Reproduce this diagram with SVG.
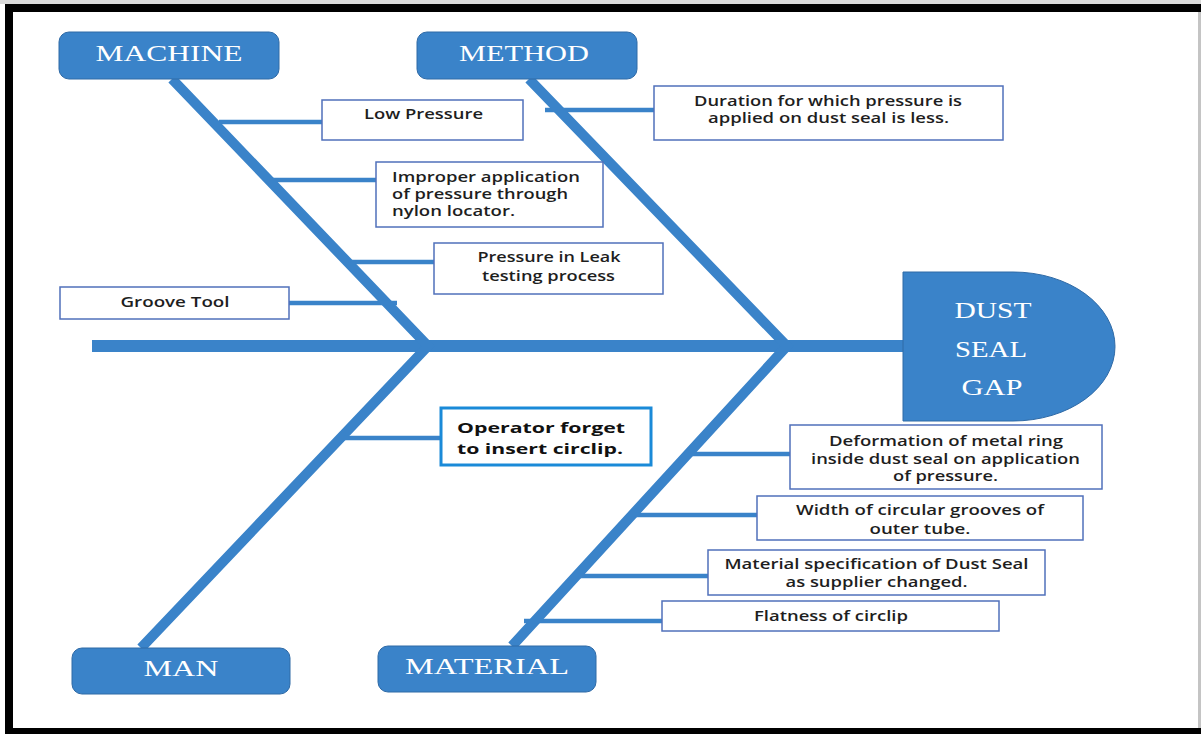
<svg xmlns="http://www.w3.org/2000/svg" width="1201" height="734" viewBox="0 0 1201 734">
<style>
.cat{fill:#3a83c9;stroke:#2f6aa6;stroke-width:1}
.cattxt{font-family:"Liberation Serif",serif;font-size:23px;fill:#ffffff;text-anchor:middle}
.box{fill:#ffffff;stroke:#5070bb;stroke-width:1.5}
.txt{font-family:"Open Sans","Liberation Sans",sans-serif;font-weight:600;font-size:14px;fill:#1e1e1e}
.btxt{font-family:"Open Sans","Liberation Sans",sans-serif;font-weight:700;font-size:14.5px;fill:#111111}
.mid{text-anchor:middle}
.bone{fill:none;stroke:#3a83c9;stroke-width:10;stroke-linejoin:miter;stroke-miterlimit:10}
.spine{stroke:#3a83c9;stroke-width:12}
.sub{stroke:#3a83c9;stroke-width:4.5}
</style>
<rect x="0" y="0" width="1201" height="734" fill="#ffffff"/>
<rect x="0" y="0" width="1201" height="4" fill="#d9d9d9"/>
<rect x="5" y="4" width="1196" height="730" fill="#000000"/>
<rect x="13" y="12" width="1186" height="716" fill="#ffffff"/>
<rect x="1198" y="12" width="3" height="716" fill="#c4c4c4"/>

<g id="connectors">
<line class="spine" x1="92" y1="346" x2="906" y2="346"/>
<polyline class="bone" points="172,79 428,346 141,648"/>
<polyline class="bone" points="529,79 787,346 512,646"/>
<line class="sub" x1="219" y1="122" x2="322" y2="122"/>
<line class="sub" x1="272" y1="180" x2="376" y2="180"/>
<line class="sub" x1="352" y1="262" x2="434" y2="262"/>
<line class="sub" x1="289" y1="303" x2="397" y2="303"/>
<line class="sub" x1="545" y1="110" x2="654" y2="110"/>
<line class="sub" x1="344" y1="438" x2="440" y2="438"/>
<line class="sub" x1="692" y1="454" x2="790" y2="454"/>
<line class="sub" x1="636" y1="515" x2="757" y2="515"/>
<line class="sub" x1="578" y1="576" x2="708" y2="576"/>
<line class="sub" x1="524" y1="621" x2="662" y2="621"/>
</g>

<g id="machine">
<rect class="cat" x="59" y="32" width="220" height="47" rx="10"/>
<text class="cattxt" x="169" y="61" textLength="147" lengthAdjust="spacingAndGlyphs">MACHINE</text>
</g>
<g id="method">
<rect class="cat" x="417" y="32" width="220" height="47" rx="10"/>
<text class="cattxt" x="524" y="61" textLength="130" lengthAdjust="spacingAndGlyphs">METHOD</text>
</g>
<g id="man">
<rect class="cat" x="72" y="648" width="218" height="46" rx="10"/>
<text class="cattxt" x="181" y="676" textLength="75" lengthAdjust="spacingAndGlyphs">MAN</text>
</g>
<g id="material">
<rect class="cat" x="378" y="646" width="218" height="46" rx="10"/>
<text class="cattxt" x="487" y="674" textLength="164" lengthAdjust="spacingAndGlyphs">MATERIAL</text>
</g>
<g id="dust-seal-gap">
<path class="cat" d="M903,272 H1013 A102,74.5 0 0 1 1013,421 H903 Z"/>
<text class="cattxt" x="993" y="318" textLength="77" lengthAdjust="spacingAndGlyphs">DUST</text>
<text class="cattxt" x="991" y="357" textLength="72" lengthAdjust="spacingAndGlyphs">SEAL</text>
<text class="cattxt" x="992" y="395" textLength="61" lengthAdjust="spacingAndGlyphs">GAP</text>
</g>

<g id="low-pressure">
<rect class="box" x="322" y="100" width="201" height="40"/>
<text class="txt mid" x="423.5" y="119" textLength="119" lengthAdjust="spacingAndGlyphs">Low Pressure</text>
</g>
<g id="improper">
<rect class="box" x="376" y="162" width="227" height="65"/>
<text class="txt" x="392" y="182" textLength="188" lengthAdjust="spacingAndGlyphs">Improper application</text>
<text class="txt" x="392" y="199" textLength="176" lengthAdjust="spacingAndGlyphs">of pressure through</text>
<text class="txt" x="392" y="216" textLength="123" lengthAdjust="spacingAndGlyphs">nylon locator.</text>
</g>
<g id="pressure-leak">
<rect class="box" x="434" y="243" width="229" height="51"/>
<text class="txt mid" x="549" y="262" textLength="143" lengthAdjust="spacingAndGlyphs">Pressure in Leak</text>
<text class="txt mid" x="548.5" y="281" textLength="133" lengthAdjust="spacingAndGlyphs">testing process</text>
</g>
<g id="groove-tool">
<rect class="box" x="60" y="287" width="229" height="32"/>
<text class="txt mid" x="175" y="307" textLength="109" lengthAdjust="spacingAndGlyphs">Groove Tool</text>
</g>
<g id="duration">
<rect class="box" x="654" y="86" width="349" height="54"/>
<text class="txt mid" x="828" y="106" textLength="268" lengthAdjust="spacingAndGlyphs">Duration for which pressure is</text>
<text class="txt mid" x="828.5" y="123" textLength="241" lengthAdjust="spacingAndGlyphs">applied on dust seal is less.</text>
</g>
<g id="operator">
<rect x="441" y="408" width="210" height="57" fill="#ffffff" stroke="#1a8ad8" stroke-width="3"/>
<text class="btxt" x="457" y="433" textLength="168" lengthAdjust="spacingAndGlyphs">Operator forget</text>
<text class="btxt" x="457" y="454" textLength="166" lengthAdjust="spacingAndGlyphs">to insert circlip.</text>
</g>
<g id="deformation">
<rect class="box" x="790" y="425" width="312" height="64"/>
<text class="txt mid" x="946" y="446" textLength="234" lengthAdjust="spacingAndGlyphs">Deformation of metal ring</text>
<text class="txt mid" x="945.5" y="464" textLength="269" lengthAdjust="spacingAndGlyphs">inside dust seal on application</text>
<text class="txt mid" x="945.5" y="481" textLength="105" lengthAdjust="spacingAndGlyphs">of pressure.</text>
</g>
<g id="width-grooves">
<rect class="box" x="757" y="496" width="326" height="44"/>
<text class="txt mid" x="920" y="515" textLength="248" lengthAdjust="spacingAndGlyphs">Width of circular grooves of</text>
<text class="txt mid" x="920" y="534" textLength="101" lengthAdjust="spacingAndGlyphs">outer tube.</text>
</g>
<g id="material-spec">
<rect class="box" x="708" y="550" width="337" height="45"/>
<text class="txt mid" x="876.5" y="569" textLength="304" lengthAdjust="spacingAndGlyphs">Material specification of Dust Seal</text>
<text class="txt mid" x="876.5" y="587" textLength="182" lengthAdjust="spacingAndGlyphs">as supplier changed.</text>
</g>
<g id="flatness">
<rect class="box" x="662" y="601" width="337" height="30"/>
<text class="txt mid" x="831" y="621" textLength="154" lengthAdjust="spacingAndGlyphs">Flatness of circlip</text>
</g>
</svg>
